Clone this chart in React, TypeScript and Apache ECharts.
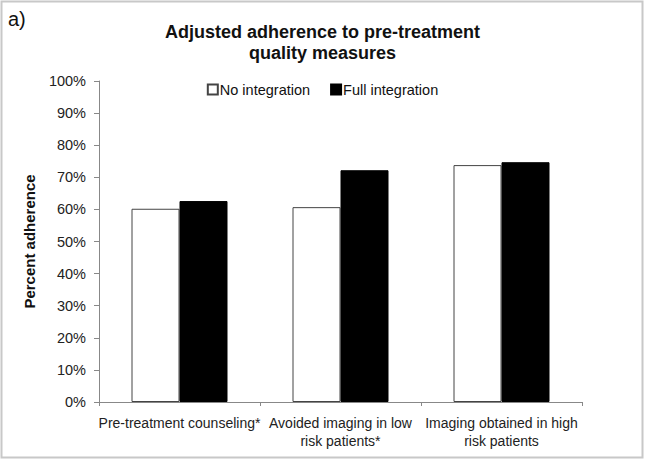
import React, { useEffect, useRef } from "react";
import * as echarts from "echarts";

const categories = [
  "Pre-treatment counseling*",
  "Avoided imaging in low\nrisk patients*",
  "Imaging obtained in high\nrisk patients",
];
const noIntegration = [60.2, 60.7, 73.8];
const fullIntegration = [62.6, 72.2, 74.7];
const seriesNames = ["No integration", "Full integration"];

const FONT = "'Liberation Sans', Arial, sans-serif";

export default function App() {
  const ref = useRef<HTMLDivElement>(null);
  useEffect(() => {
    if (!ref.current) return;
    const chart = echarts.init(ref.current, null, { renderer: "svg" });
    chart.setOption({
      animation: false,
      backgroundColor: "#fff",
      textStyle: { fontFamily: FONT },
      title: {
        text: "Adjusted adherence to pre-treatment\nquality measures",
        left: "center",
        top: 16,
        textStyle: {
          fontFamily: FONT,
          fontSize: 18,
          fontWeight: "bold",
          color: "#111",
          lineHeight: 21,
        },
      },
      graphic: [
        {
          type: "rect",
          shape: { x: 1.5, y: 1.5, width: 641, height: 456 },
          style: { fill: "none", stroke: "#c8c8c8", lineWidth: 2 },
          silent: true,
        },
        {
          type: "text",
          left: 8,
          top: 9,
          style: { text: "a)", font: `20px ${FONT}`, fill: "#111" },
        },
      ],
      legend: {
        top: 77,
        left: "center",
        itemWidth: 10,
        itemHeight: 10,
        itemGap: 20,
        icon: "rect",
        textStyle: { fontFamily: FONT, fontSize: 14.5, color: "#111", padding: [0, 0, 0, -3] },
        data: seriesNames,
      },
      grid: { left: 99, right: 63, top: 81, bottom: 60, containLabel: false },
      xAxis: {
        type: "category",
        data: categories,
        axisLine: { lineStyle: { color: "#888", width: 1 } },
        axisTick: { show: true, length: 4, alignWithLabel: false, lineStyle: { color: "#888" } },
        axisLabel: {
          interval: 0,
          fontFamily: FONT,
          fontSize: 14,
          color: "#222",
          lineHeight: 18,
          margin: 12,
        },
      },
      yAxis: {
        type: "value",
        min: 0,
        max: 100,
        interval: 10,
        name: "Percent adherence",
        nameLocation: "middle",
        nameGap: 62,
        nameTextStyle: { fontFamily: FONT, fontSize: 15, fontWeight: "bold", color: "#111" },
        axisLine: { show: true, lineStyle: { color: "#888", width: 1 } },
        axisTick: { show: true, length: 5, lineStyle: { color: "#888" } },
        splitLine: { show: false },
        axisLabel: {
          formatter: "{value}%",
          fontFamily: FONT,
          fontSize: 14.5,
          color: "#222",
          margin: 13,
        },
      },
      series: [
        {
          name: seriesNames[0],
          type: "bar",
          data: noIntegration,
          barWidth: 48,
          barGap: "0%",
          itemStyle: { color: "#fff", borderColor: "#444", borderWidth: 1 },
        },
        {
          name: seriesNames[1],
          type: "bar",
          data: fullIntegration,
          barWidth: 48,
          barGap: "0%",
          itemStyle: { color: "#000", borderColor: "#000", borderWidth: 1 },
        },
      ],
    });
    return () => chart.dispose();
  }, []);
  return (
    <div
      ref={ref}
      style={{ position: "fixed", left: 0, top: 0, width: 645, height: 462 }}
    />
  );
}
